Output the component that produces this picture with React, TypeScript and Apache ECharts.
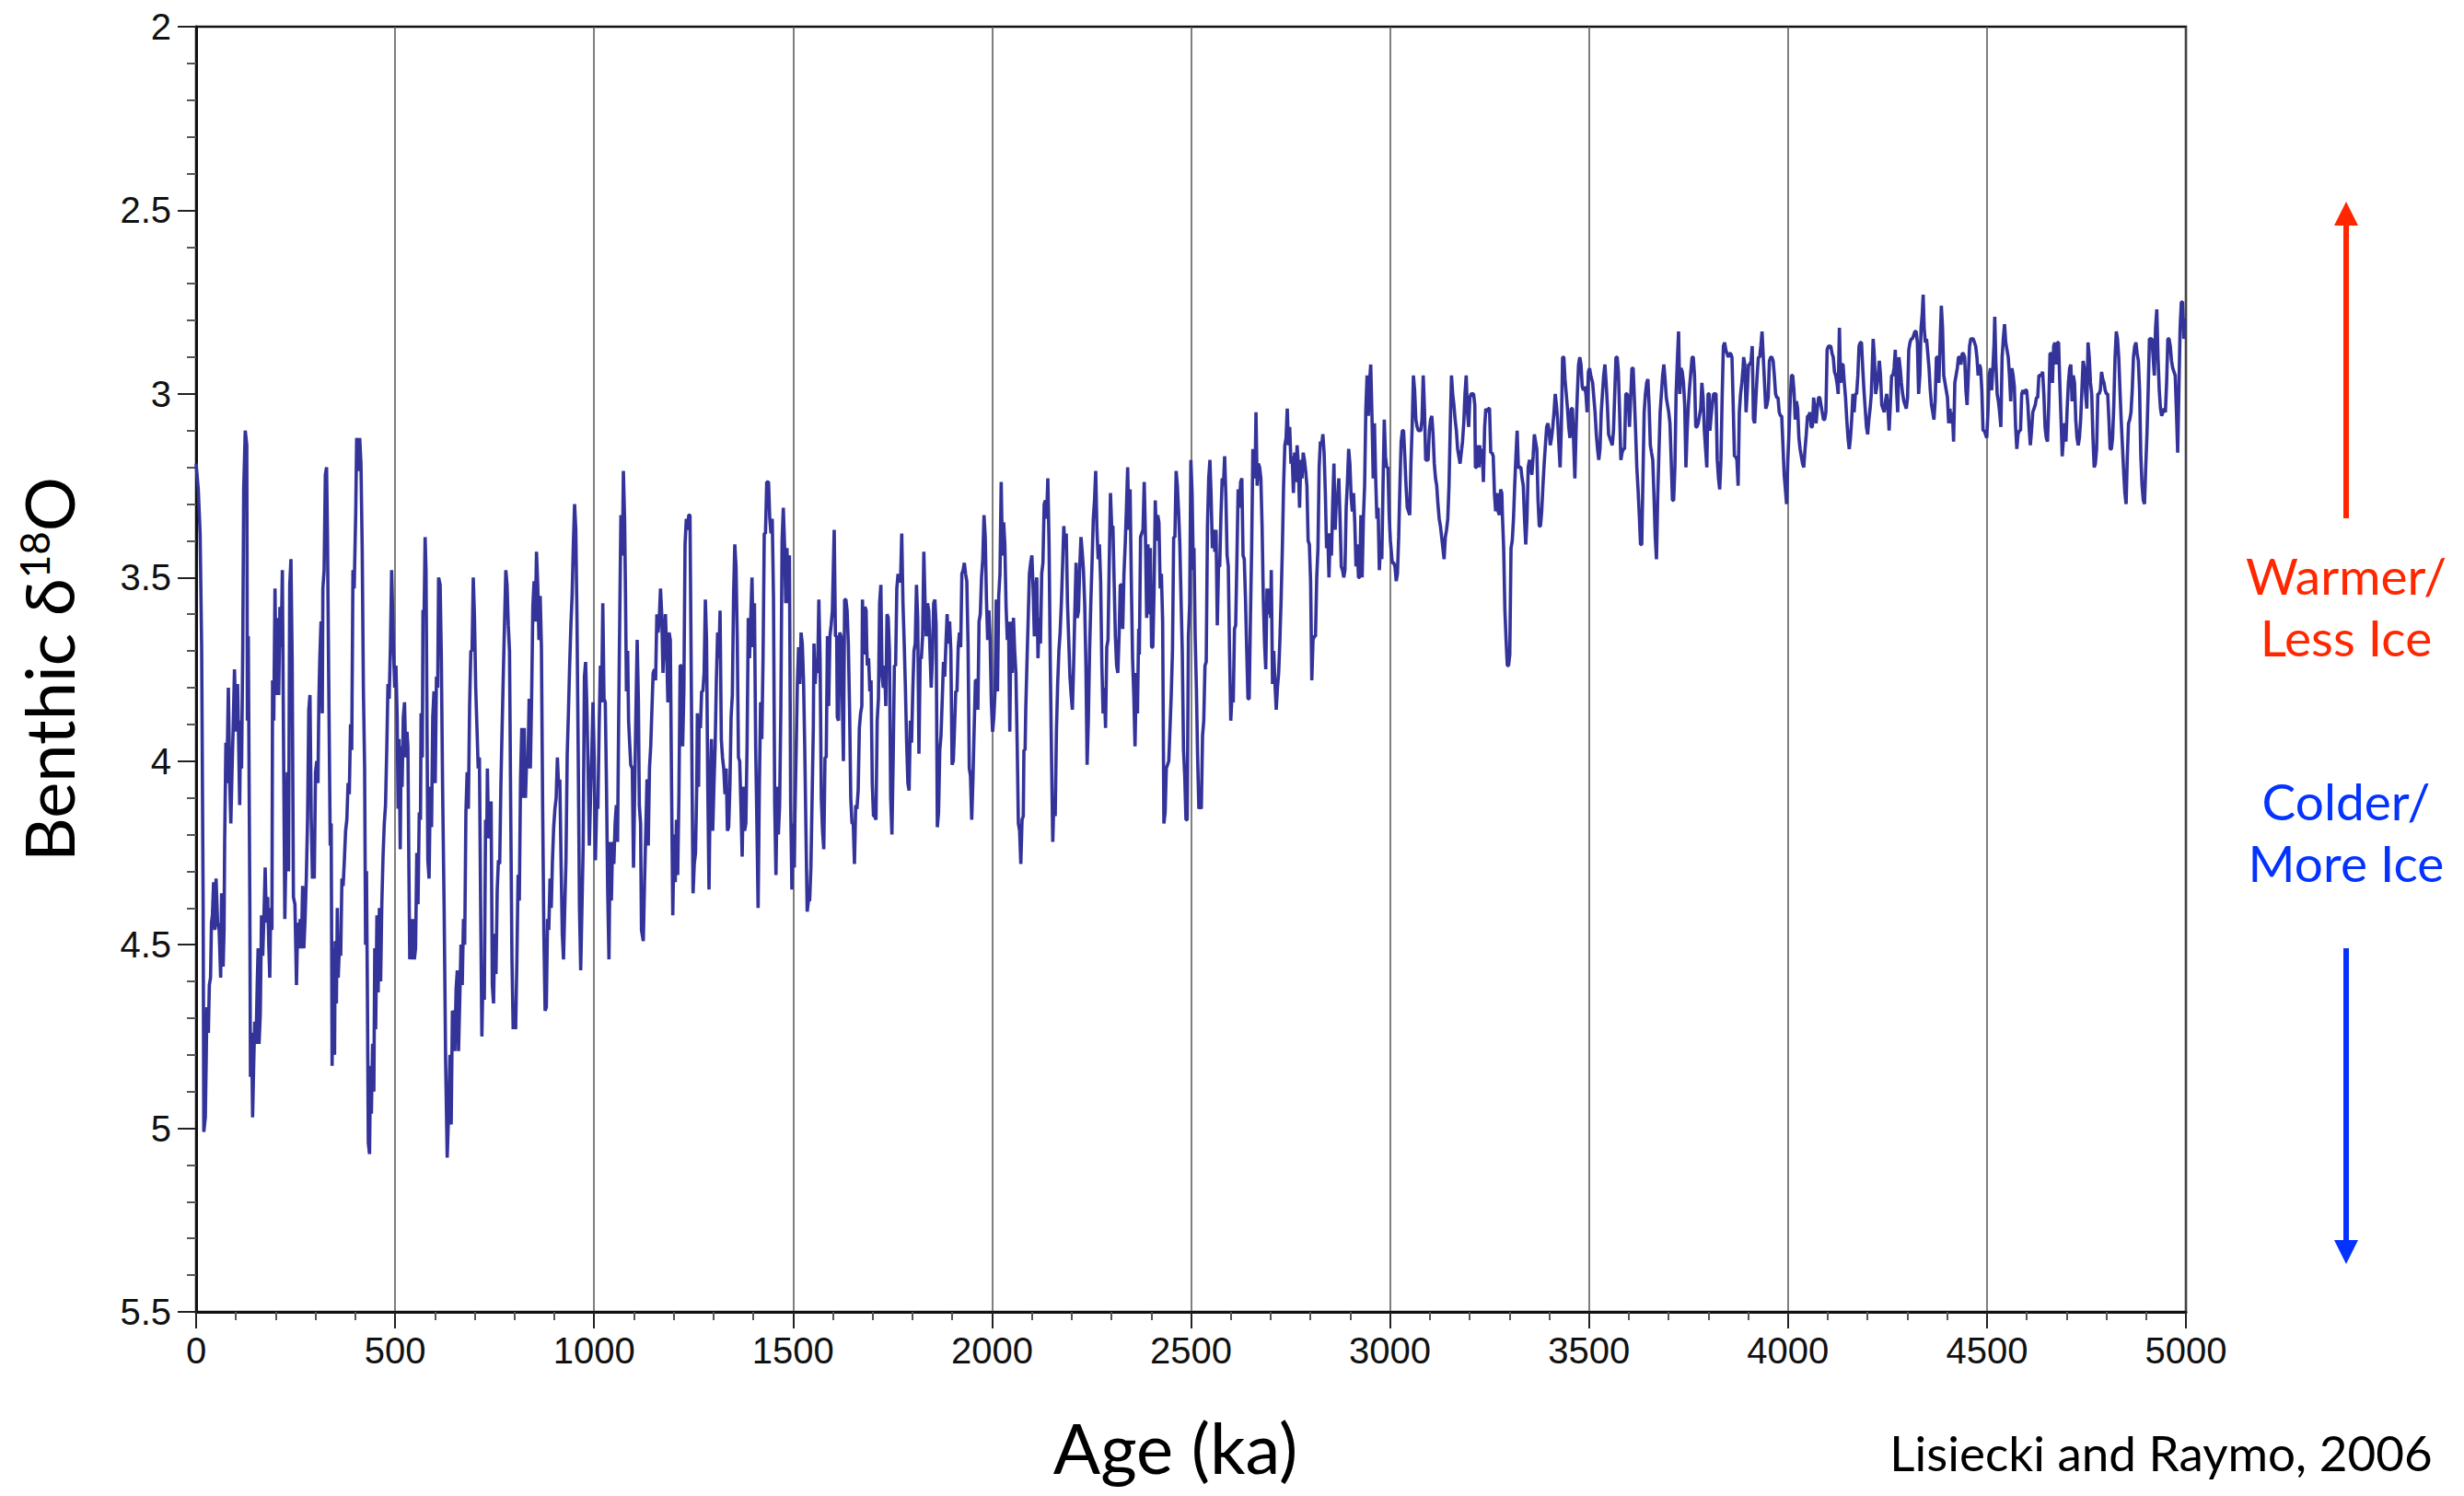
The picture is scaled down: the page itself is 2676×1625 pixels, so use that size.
import React, { useEffect, useRef } from "react";
import * as echarts from "echarts";

// Benthic d18O stack (Lisiecki & Raymo 2006): [age ka, d18O permil]
const seg0to500: number[][] = [
  [0,3.19],[5.4,3.26],[10,3.38],[13.9,3.69],[17.7,4.40],[19.3,5.01],[23.1,4.97],[25.4,4.81],[27,4.67],[30.8,4.74],[33.2,4.61],[36.2,4.59],[38.6,4.44],[40.9,4.42],[43.9,4.33],[47,4.46],[50.1,4.32],[54,4.44],[57.8,4.46],[61.7,4.59],[64,4.36],[67.9,4.56],[70.2,4.46],[71.7,4.22],[74.8,3.95],[77.1,4.06],[81,3.80],[84.8,4.07],[87.2,4.17],[90.2,4.03],[93.3,3.90],[96.4,3.75],[100.3,3.92],[104.1,3.79],[106.4,3.92],[109.5,4.12],[111.8,3.89],[114.2,4.02],[117.2,3.69],[119.5,3.26],[123.4,3.10],[127.3,3.14],[128.8,3.89],[131.1,3.66],[135,4.40],[136.5,4.86],[139.6,4.74],[141.9,4.97],[145,4.81],[147.3,4.71],[150.4,4.77],[153.5,4.61],[155.8,4.51],[158.1,4.77],[161.2,4.69],[164.3,4.42],[167.4,4.53],[170.5,4.42],[173.5,4.29],[176.6,4.44],[179.7,4.37],[182.8,4.51],[185.1,4.59],[187.4,4.40],[190.5,4.46],[192.1,3.78],[195.1,3.89],[198.2,3.53],[201.3,3.82],[204.4,3.61],[207.5,3.82],[210.6,3.58],[213.6,3.69],[216.7,3.48],[219.8,3.97],[222.9,4.43],[226,4.23],[229.1,4.03],[232.2,4.30],[235.2,3.52],[238.3,3.45],[241.4,3.73],[244.5,4.37],[248.3,4.39],[252.2,4.61],[255.3,4.44],[258.4,4.51],[261.5,4.43],[264.5,4.51],[267.6,4.34],[270.7,4.51],[273.8,4.43],[276.9,4.32],[280,4.16],[283.1,3.86],[286.1,3.82],[289.2,4.15],[292.3,4.32],[294.6,4.22],[296.9,4.32],[300,4.03],[303.1,4.00],[306.2,4.06],[308.5,3.83],[310.8,3.72],[313.9,3.62],[317,3.87],[318.5,3.53],[321.6,3.48],[324.7,3.22],[327.8,3.20],[330.1,3.39],[333.2,3.78],[337,4.23],[339.4,4.17],[341.7,4.83],[344.8,4.51],[347.9,4.80],[349.4,4.49],[352.5,4.66],[354.8,4.40],[357.1,4.59],[360.2,4.50],[363.3,4.53],[366.4,4.32],[369.4,4.34],[372.5,4.27],[375.6,4.19],[378.7,4.16],[381.8,4.06],[384.9,4.09],[388,3.90],[391,3.97],[394.1,3.48],[397.2,3.53],[401.1,3.32],[403.4,3.12],[406.5,3.16],[408.8,3.21],[411.1,3.12],[414.2,3.19],[417.3,3.42],[420.3,3.80],[423.4,4.02],[425.8,4.50],[428.1,4.30],[430.4,4.64],[432.7,5.04],[435.8,5.07],[438.1,4.83],[440.4,4.96],[443.5,4.77],[446.6,4.90],[448.9,4.51],[451.2,4.73],[454.3,4.42],[457.4,4.63],[460.5,4.40],[463.6,4.60],[466.6,4.39],[469.7,4.26],[472.8,4.17],[475.9,4.12],[479,3.97],[482.1,3.79],[485.1,3.83],[488.2,3.69],[491.3,3.48],[495.9,3.69],[499,3.80]
];
const seg500to1000: number[][] = [
  [502.1,3.74],[505.2,3.88],[507.5,4.13],[509.8,3.94],[512.9,4.24],[515.2,3.96],[517.5,4.07],[520.6,3.88],[523.7,3.84],[526.8,3.99],[529.9,3.92],[532.2,3.96],[534.5,4.27],[536.8,4.54],[539.9,4.43],[542.2,4.54],[545.3,4.43],[548.4,4.54],[551.4,4.51],[554.5,4.25],[557.6,4.39],[560.7,4.14],[563.8,4.16],[565.3,3.87],[568.4,3.99],[570,3.59],[573,3.59],[575.4,3.39],[577.7,3.48],[579.2,3.73],[582.3,4.27],[585.4,4.32],[588.5,4.07],[591.6,4.18],[594.6,3.88],[597.7,3.81],[600.8,4.06],[603.9,3.77],[607,3.80],[609.3,3.50],[613.2,3.52],[616.2,3.72],[619.3,4.07],[623.2,4.40],[627,4.82],[630.9,5.08],[634.7,4.95],[637.8,4.80],[640.9,4.99],[644,4.68],[647.1,4.69],[650.2,4.79],[653.3,4.62],[656.3,4.57],[659.4,4.79],[662.5,4.65],[665.6,4.50],[668.7,4.61],[671.8,4.43],[674.9,4.50],[677.9,4.14],[681,4.03],[684.1,4.13],[687.2,3.85],[690.3,3.70],[693.4,3.70],[696.4,3.50],[699.5,3.61],[702.6,3.80],[705.7,3.91],[708.8,4.02],[711.9,3.99],[715,4.40],[718,4.75],[721.1,4.57],[724.2,4.65],[727.3,4.16],[730.4,4.20],[731.9,4.02],[735,4.21],[738.1,4.20],[741.2,4.11],[744.3,4.61],[747.4,4.66],[750.4,4.47],[753.5,4.58],[756.6,4.35],[759.7,4.27],[762.8,4.28],[765.9,4.06],[768.9,3.91],[772,3.76],[775.1,3.62],[778.2,3.48],[781.3,3.52],[784.4,3.63],[787.5,3.70],[790.5,4.13],[793.6,4.54],[796.7,4.73],[799.8,4.68],[802.9,4.73],[806,4.54],[809.1,4.31],[812.1,4.38],[815.2,4.05],[818.3,3.91],[821.4,4.10],[824.5,3.91],[827.6,4.10],[830.7,3.99],[833.7,4.02],[836.8,3.83],[839.9,4.02],[843,3.83],[846.1,3.58],[849.2,3.51],[852.2,3.62],[855.3,3.43],[858.4,3.52],[861.5,3.67],[864.6,3.55],[867.7,3.69],[870.8,4.13],[873.8,4.47],[876.9,4.68],[880,4.67],[883.1,4.43],[886.2,4.46],[889.3,4.32],[892.4,4.40],[895.4,4.27],[898.5,4.18],[901.6,4.13],[904.7,4.10],[907.8,3.99],[910.9,4.07],[913.9,4.05],[917,4.27],[920.1,4.47],[923.2,4.54],[926.3,4.40],[929.4,4.27],[932.5,3.98],[935.5,3.87],[938.6,3.74],[941.7,3.63],[944.8,3.55],[947.9,3.41],[951,3.30],[954.1,3.37],[957.1,3.62],[960.2,3.99],[963.3,4.40],[966.4,4.57],[969.5,4.40],[972.6,4.23],[975.7,3.77],[978.7,3.73],[981.8,3.85],[984.9,4.02],[988,4.23],[991.1,4.10],[994.2,3.98],[997.2,3.84]
];
const seg1000to1500: number[][] = [
  [1000.3,3.99],[1003.4,4.27],[1006.5,4.12],[1009.6,4.13],[1012.7,3.91],[1015.8,3.74],[1018.9,3.84],[1021.9,3.57],[1025,3.83],[1028.1,3.84],[1031.2,4.07],[1034.3,4.36],[1037.4,4.54],[1040.4,4.22],[1043.5,4.38],[1046.6,4.22],[1049.7,4.28],[1052.8,4.17],[1055.9,4.12],[1059,4.22],[1062,3.86],[1065.1,3.55],[1067.4,3.33],[1071.3,3.44],[1073.6,3.21],[1076.7,3.34],[1079,3.55],[1081.3,3.81],[1084.4,3.70],[1086.7,3.89],[1089.8,3.96],[1092.1,4.01],[1096,4.02],[1099.1,4.29],[1102.2,4.07],[1105.2,3.86],[1108.3,3.67],[1111.4,3.84],[1113.7,4.12],[1116.8,4.17],[1119.1,4.46],[1123.7,4.49],[1126.8,4.33],[1129.9,4.19],[1133,4.05],[1136.1,4.23],[1139.2,4.02],[1142.3,3.96],[1145.3,3.86],[1148.4,3.76],[1151.5,3.75],[1154.6,3.78],[1157.7,3.60],[1160.8,3.65],[1163.9,3.61],[1166.9,3.53],[1170,3.60],[1173.1,3.76],[1176.2,3.67],[1179.3,3.60],[1182.4,3.70],[1185.5,3.84],[1188.5,3.65],[1191.6,3.67],[1194.7,4.07],[1197.8,4.42],[1200.9,4.20],[1204,4.33],[1207,4.16],[1210.1,4.31],[1213.2,4.09],[1216.3,3.74],[1219.4,3.74],[1222.5,3.96],[1225.6,3.81],[1228.6,3.41],[1231.7,3.34],[1234.8,3.37],[1237.9,3.33],[1241,3.33],[1244.1,3.76],[1246.4,4.07],[1248.7,4.36],[1251.8,4.28],[1254.9,4.25],[1258,4.07],[1259.5,3.87],[1262.6,4.07],[1264.1,3.88],[1267.2,3.91],[1270.3,3.81],[1273.4,3.81],[1276.5,3.76],[1279.6,3.56],[1282.6,3.67],[1285.7,4.07],[1288.8,4.35],[1291.9,4.07],[1295,3.94],[1298.1,4.19],[1301.1,4.07],[1304.2,3.96],[1307.3,3.78],[1310.4,3.65],[1313.5,3.72],[1316.6,3.59],[1319.7,3.94],[1322.7,3.99],[1325.8,4.02],[1328.9,4.09],[1332,4.02],[1335.1,4.19],[1338.2,4.18],[1341.3,4.07],[1344.3,3.88],[1347.4,3.82],[1350.5,3.55],[1353.6,3.41],[1356.7,3.47],[1359.8,3.67],[1362.8,3.99],[1365.9,4.00],[1369,4.12],[1372.1,4.26],[1375.2,4.07],[1378.3,4.19],[1381.4,4.17],[1384.4,3.96],[1387.5,3.61],[1390.6,3.72],[1393.7,3.61],[1396.8,3.50],[1399.9,3.69],[1403,3.57],[1406,3.96],[1409.1,4.17],[1412.2,4.40],[1415.3,4.07],[1418.4,3.84],[1421.5,3.94],[1424.6,3.72],[1427.6,3.38],[1430.7,3.38],[1433.8,3.24],[1438.4,3.24],[1441.5,3.34],[1444.6,3.38],[1447.7,3.34],[1450.8,3.55],[1453.9,4.12],[1457,4.31],[1460,4.07],[1463.1,4.20],[1466.2,4.12],[1469.3,3.86],[1472.4,3.40],[1475.5,3.31],[1478.6,3.41],[1481.6,3.57],[1484.7,3.42],[1487.8,3.57],[1490.9,3.44],[1494,4.12],[1497.1,4.35]
];
const seg1500to2000: number[][] = [
  [1500.1,4.17],[1503.2,4.29],[1504.7,4.15],[1507.8,3.97],[1510.8,3.79],[1513.9,3.69],[1517,3.79],[1520.1,3.65],[1523.2,3.68],[1526.3,3.78],[1529.3,3.96],[1532.4,4.19],[1535.5,4.41],[1538.6,4.38],[1541.7,4.38],[1544.8,4.29],[1547.9,4.10],[1550.9,3.91],[1552.5,3.68],[1555.6,3.79],[1558.7,3.72],[1561.7,3.76],[1564.8,3.56],[1567.9,3.72],[1571,4.10],[1574.1,4.19],[1577.2,4.24],[1580.3,3.99],[1583.3,3.99],[1586.4,3.66],[1589.5,3.85],[1592.6,3.66],[1595.7,3.63],[1598.8,3.59],[1601.9,3.44],[1603.4,3.37],[1606.5,3.66],[1609.6,3.66],[1611.1,3.88],[1614.2,3.89],[1617.3,3.65],[1620.4,3.66],[1623.4,3.81],[1626.5,4.00],[1629.6,3.56],[1632.7,3.56],[1635.8,3.59],[1638.9,3.68],[1642,3.86],[1645,4.10],[1648.1,4.17],[1651.2,4.17],[1654.3,4.28],[1657.4,4.12],[1660.5,4.13],[1663.6,4.08],[1666.6,3.91],[1669.7,3.87],[1672.8,3.85],[1674.4,3.56],[1677.4,3.71],[1680.5,3.58],[1683.6,3.59],[1685.2,3.69],[1686.7,3.74],[1689.8,3.72],[1692.9,3.81],[1696,3.78],[1699,4.06],[1702.1,4.15],[1705.2,4.15],[1708.3,4.16],[1711.4,3.89],[1714.5,3.83],[1717.5,3.57],[1720.6,3.52],[1723.7,3.77],[1726.8,3.80],[1729.9,3.74],[1733,3.85],[1736.1,3.60],[1739.1,3.61],[1742.2,3.70],[1745.3,4.10],[1748.4,4.20],[1751.5,4.00],[1754.6,3.74],[1757.7,3.74],[1760.7,3.53],[1763.8,3.49],[1766.9,3.51],[1770,3.51],[1773.1,3.38],[1776.2,3.57],[1779.3,3.68],[1782.3,3.80],[1785.4,3.95],[1788.5,4.06],[1791.6,4.08],[1794.7,3.89],[1797.8,3.95],[1800.8,3.81],[1803.9,3.70],[1807,3.68],[1810.1,3.52],[1813.2,3.61],[1816.3,3.98],[1819.4,3.72],[1822.4,3.72],[1825.5,3.66],[1828.6,3.43],[1831.7,3.57],[1834.8,3.66],[1837.9,3.57],[1841,3.59],[1844,3.70],[1847.1,3.80],[1850.2,3.72],[1853.3,3.57],[1856.4,3.56],[1859.5,3.63],[1862.5,4.18],[1865.6,4.14],[1868.7,3.97],[1871.8,3.93],[1874.9,3.83],[1878,3.73],[1881.1,3.77],[1884.1,3.68],[1887.2,3.60],[1890.3,3.68],[1893.4,3.62],[1896.5,3.70],[1899.6,4.01],[1902.7,4.00],[1905.7,3.91],[1908.8,3.81],[1911.9,3.81],[1915,3.69],[1918.1,3.65],[1921.2,3.69],[1924.2,3.49],[1927.3,3.48],[1930.4,3.46],[1933.5,3.49],[1936.6,3.51],[1939.7,3.68],[1942.8,4.02],[1945.8,4.04],[1948.9,4.16],[1952,4.05],[1955.1,3.91],[1958.2,3.78],[1961.3,3.78],[1964.4,3.86],[1967.4,3.62],[1970.5,3.60],[1973.6,3.50],[1976.7,3.45],[1979.8,3.33],[1982.9,3.39],[1986,3.56],[1989,3.67],[1992.1,3.59],[1995.2,3.67],[1998.3,3.84]
];
const seg2000to2500: number[][] = [
  [2001.4,3.92],[2004.5,3.88],[2007.6,3.81],[2010.6,3.56],[2013.7,3.81],[2016.8,3.55],[2019.9,3.49],[2023,3.24],[2026.1,3.44],[2029.2,3.35],[2032.2,3.41],[2035.3,3.58],[2038.4,3.67],[2041.5,3.62],[2044.6,3.92],[2047.7,3.62],[2050.7,3.76],[2053.8,3.61],[2056.9,3.70],[2060,3.76],[2063.1,3.95],[2066.2,4.17],[2069.3,4.19],[2072.3,4.28],[2075.4,4.16],[2078.5,4.15],[2080.1,3.97],[2083.1,3.97],[2084.7,3.86],[2087.8,3.73],[2090.9,3.61],[2093.9,3.49],[2097,3.46],[2100.1,3.44],[2103.2,3.53],[2106.3,3.66],[2109.4,3.53],[2112.4,3.50],[2115.5,3.72],[2118.6,3.61],[2121.7,3.68],[2124.8,3.49],[2127.9,3.46],[2131,3.30],[2134,3.29],[2137.1,3.34],[2140.2,3.23],[2143.3,3.41],[2146.4,3.74],[2149.5,3.99],[2152.6,4.22],[2155.6,4.10],[2158.7,4.15],[2161.8,3.92],[2164.9,3.79],[2168,3.70],[2171.1,3.65],[2174.2,3.57],[2177.2,3.47],[2180.3,3.36],[2183.4,3.42],[2186.5,3.38],[2189.6,3.57],[2192.7,3.67],[2195.7,3.77],[2198.8,3.82],[2201.9,3.86],[2205,3.74],[2208.1,3.59],[2211.2,3.46],[2214.3,3.61],[2217.3,3.59],[2220.4,3.47],[2223.5,3.39],[2226.6,3.43],[2229.7,3.48],[2232.8,3.57],[2235.9,3.74],[2238.9,4.01],[2242,3.89],[2245.1,3.70],[2248.2,3.57],[2251.3,3.46],[2254.4,3.34],[2257.5,3.29],[2260.5,3.21],[2263.6,3.37],[2266.7,3.45],[2269.8,3.41],[2272.9,3.51],[2276,3.74],[2279,3.87],[2282.1,3.80],[2285.2,3.91],[2288.3,3.69],[2291.4,3.67],[2294.5,3.46],[2297.6,3.27],[2300.6,3.36],[2303.7,3.36],[2306.8,3.51],[2309.9,3.66],[2313,3.74],[2316.1,3.76],[2319.2,3.66],[2322.2,3.52],[2325.3,3.52],[2328.4,3.64],[2331.5,3.49],[2334.6,3.41],[2337.7,3.31],[2340.8,3.20],[2343.8,3.37],[2346.9,3.26],[2350,3.51],[2353.1,3.72],[2356.2,3.82],[2359.3,3.96],[2362.4,3.76],[2365.4,3.87],[2368.5,3.64],[2370.1,3.71],[2373.2,3.39],[2376.2,3.38],[2379.3,3.37],[2382.4,3.24],[2385.5,3.39],[2388.6,3.61],[2391.7,3.41],[2394.7,3.60],[2397.8,3.42],[2400.9,3.69],[2404,3.69],[2407.1,3.54],[2410.2,3.29],[2413.3,3.40],[2416.3,3.33],[2419.4,3.35],[2422.5,3.53],[2425.6,3.49],[2428.7,3.62],[2431.8,4.17],[2434.9,4.14],[2437.9,4.02],[2441,4.01],[2444.1,4.00],[2447.2,3.91],[2450.3,3.82],[2453.4,3.70],[2456.4,3.39],[2459.5,3.39],[2462.6,3.21],[2465.7,3.25],[2468.8,3.32],[2471.9,3.41],[2475,3.56],[2478,3.70],[2481.1,3.97],[2484.2,4.04],[2487.3,4.16],[2490.4,4.16],[2493.5,3.66],[2496.6,3.57],[2499.6,3.18]
];
const seg2500to3000: number[][] = [
  [2502.7,3.27],[2505.8,3.48],[2507.4,3.42],[2510.4,3.66],[2513.5,3.80],[2516.6,3.99],[2519.7,4.13],[2522.8,4.12],[2525.9,4.13],[2529,3.93],[2532,3.89],[2535.1,3.74],[2538.2,3.73],[2541.3,3.36],[2544.4,3.23],[2547.5,3.18],[2550.5,3.28],[2553.6,3.42],[2556.7,3.37],[2559.8,3.43],[2562.9,3.37],[2566,3.63],[2569.1,3.47],[2572.1,3.47],[2575.2,3.33],[2578.3,3.23],[2581.4,3.25],[2584.5,3.17],[2587.6,3.28],[2590.7,3.44],[2593.7,3.47],[2596.8,3.70],[2599.9,3.89],[2603,3.82],[2606.1,3.84],[2609.2,3.64],[2612.2,3.63],[2615.3,3.45],[2618.4,3.26],[2621.5,3.31],[2624.6,3.24],[2627.7,3.23],[2630.8,3.44],[2633.8,3.45],[2636.9,3.56],[2640,3.70],[2643.1,3.83],[2646.2,3.83],[2649.3,3.61],[2652.4,3.42],[2655.4,3.15],[2658.5,3.23],[2661.6,3.18],[2663.2,3.05],[2666.2,3.25],[2669.3,3.19],[2672.4,3.20],[2675.5,3.23],[2678.6,3.36],[2681.7,3.56],[2684.8,3.68],[2687.8,3.75],[2690.9,3.53],[2694,3.60],[2697.1,3.53],[2700.2,3.61],[2701.7,3.48],[2704.8,3.79],[2707.9,3.70],[2711,3.79],[2714.1,3.86],[2717.2,3.80],[2720.2,3.76],[2723.3,3.67],[2726.4,3.56],[2729.5,3.42],[2732.6,3.25],[2735.7,3.14],[2738.8,3.12],[2741.8,3.04],[2744.9,3.14],[2748,3.09],[2751.1,3.19],[2754.2,3.17],[2757.3,3.27],[2760.3,3.16],[2763.4,3.24],[2766.5,3.14],[2769.6,3.19],[2772.7,3.31],[2775.8,3.18],[2778.9,3.23],[2781.9,3.16],[2785,3.18],[2788.1,3.21],[2791.2,3.25],[2794.3,3.40],[2797.4,3.41],[2800.5,3.51],[2803.5,3.78],[2806.6,3.67],[2809.7,3.66],[2812.8,3.66],[2815.9,3.50],[2819,3.42],[2822,3.20],[2825.1,3.13],[2828.2,3.14],[2831.3,3.11],[2834.4,3.16],[2837.5,3.27],[2840.6,3.42],[2843.6,3.38],[2846.7,3.50],[2849.8,3.38],[2852.9,3.44],[2856,3.30],[2859.1,3.19],[2862.2,3.37],[2865.2,3.29],[2868.3,3.28],[2871.4,3.23],[2874.5,3.34],[2877.6,3.47],[2880.7,3.48],[2883.8,3.50],[2886.8,3.48],[2889.9,3.31],[2893,3.24],[2896.1,3.15],[2899.2,3.19],[2902.3,3.28],[2905.3,3.32],[2908.4,3.27],[2911.5,3.35],[2914.6,3.47],[2917.7,3.41],[2920.8,3.50],[2923.9,3.50],[2926.9,3.33],[2930,3.50],[2933.1,3.34],[2936.2,3.25],[2939.3,3.04],[2942.4,2.95],[2945.5,3.06],[2948.5,2.97],[2951.6,2.92],[2954.7,3.06],[2957.8,3.23],[2960.9,3.08],[2964,3.23],[2967.1,3.34],[2970.1,3.31],[2973.2,3.48],[2976.3,3.41],[2979.4,3.45],[2982.5,3.25],[2985.6,3.07],[2988.6,3.17],[2991.7,3.20],[2994.8,3.20],[2997.9,3.33]
];
const seg3000to3500: number[][] = [
  [3001,3.40],[3005.6,3.46],[3009.5,3.46],[3012.5,3.47],[3015.6,3.51],[3018.7,3.49],[3021.8,3.39],[3024.9,3.25],[3028,3.13],[3031.1,3.10],[3034.1,3.10],[3037.2,3.17],[3040.3,3.25],[3043.4,3.31],[3046.5,3.32],[3049.6,3.33],[3052.6,3.19],[3055.7,3.09],[3058.8,2.95],[3061.9,2.99],[3065,3.07],[3068.1,3.09],[3071.2,3.10],[3074.2,3.10],[3077.3,3.10],[3080.4,3.07],[3083.5,2.95],[3086.6,3.04],[3089.7,3.18],[3092.8,3.18],[3095.8,3.18],[3098.9,3.10],[3102,3.07],[3105.1,3.06],[3108.2,3.11],[3111.3,3.19],[3114.4,3.23],[3117.4,3.25],[3120.5,3.30],[3123.6,3.34],[3126.7,3.36],[3129.8,3.39],[3132.9,3.42],[3135.9,3.45],[3139,3.39],[3142.1,3.37],[3145.2,3.34],[3148.3,3.25],[3151.4,3.09],[3154.5,2.95],[3157.5,3.00],[3160.6,3.03],[3163.7,3.07],[3166.8,3.10],[3169.9,3.15],[3173,3.17],[3176.1,3.19],[3179.1,3.16],[3182.2,3.13],[3185.3,3.08],[3188.4,3.00],[3191.5,2.95],[3194.6,3.05],[3197.7,3.09],[3200.7,3.01],[3203.8,3.00],[3206.9,3.00],[3210,3.00],[3213.1,3.03],[3214.6,3.20],[3217.7,3.20],[3220.8,3.14],[3223.9,3.20],[3225.4,3.14],[3228.5,3.19],[3231.6,3.15],[3234.7,3.24],[3237.8,3.09],[3240.8,3.04],[3243.9,3.05],[3247,3.04],[3250.1,3.04],[3253.2,3.16],[3256.3,3.16],[3259.4,3.17],[3262.4,3.27],[3265.5,3.32],[3268.6,3.27],[3271.7,3.32],[3274.8,3.33],[3277.9,3.26],[3281,3.27],[3282.5,3.33],[3285.6,3.42],[3288.7,3.59],[3291.7,3.67],[3294.8,3.74],[3297.9,3.74],[3301,3.71],[3304.1,3.42],[3307.2,3.40],[3310.3,3.34],[3313.3,3.25],[3316.4,3.17],[3319.5,3.10],[3322.6,3.20],[3325.7,3.20],[3328.8,3.20],[3331.9,3.23],[3334.9,3.25],[3338,3.34],[3341.1,3.41],[3344.2,3.34],[3347.3,3.20],[3350.4,3.18],[3353.5,3.20],[3356.5,3.22],[3359.6,3.17],[3362.7,3.11],[3365.8,3.13],[3368.9,3.15],[3372,3.29],[3375.1,3.36],[3378.1,3.36],[3381.2,3.32],[3384.3,3.25],[3387.4,3.19],[3390.5,3.14],[3393.6,3.09],[3396.7,3.08],[3399.7,3.10],[3402.8,3.14],[3405.9,3.12],[3409,3.09],[3412.1,3.05],[3415.2,3.00],[3418.2,3.03],[3421.3,3.07],[3424.4,3.14],[3427.5,3.20],[3430.6,3.09],[3433.7,2.90],[3436.8,2.90],[3439.8,2.96],[3442.9,3.00],[3446,3.04],[3449.1,3.09],[3452.2,3.12],[3455.3,3.04],[3458.4,3.04],[3461.4,3.13],[3464.5,3.23],[3467.6,3.10],[3470.7,3.00],[3473.8,2.92],[3476.9,2.90],[3480,2.92],[3483,2.98],[3486.1,2.99],[3489.2,2.98],[3492.3,3.00],[3495.4,3.05],[3498.5,2.94]
];
const seg3500to4000: number[][] = [
  [3501.5,2.93],[3504.6,2.95],[3509.2,2.97],[3512.2,3.01],[3515.3,3.05],[3518.4,3.11],[3521.5,3.15],[3524.6,3.18],[3527.7,3.15],[3530.8,3.05],[3533.8,3.00],[3536.9,2.95],[3540,2.92],[3543.1,2.97],[3546.2,3.03],[3549.3,3.11],[3552.3,3.12],[3555.4,3.13],[3558.5,3.14],[3561.6,3.10],[3564.7,3.00],[3567.8,2.90],[3570.9,2.90],[3573.9,2.94],[3577,3.05],[3580.1,3.18],[3583.2,3.16],[3586.3,3.15],[3589.4,3.15],[3592.5,3.00],[3595.5,3.00],[3598.6,3.01],[3601.7,3.09],[3604.8,3.01],[3607.9,2.93],[3611,2.93],[3614,3.01],[3617.1,3.10],[3620.2,3.20],[3623.3,3.26],[3626.4,3.33],[3629.5,3.41],[3632.6,3.41],[3635.6,3.23],[3638.7,3.05],[3641.8,3.00],[3644.9,2.97],[3648,2.96],[3651.1,3.03],[3654.2,3.14],[3657.2,3.16],[3660.3,3.18],[3663.4,3.28],[3666.5,3.39],[3669.6,3.45],[3672.7,3.28],[3675.8,3.16],[3678.8,3.05],[3681.9,3.00],[3685,2.95],[3688.1,2.92],[3691.2,2.96],[3694.3,3.01],[3697.3,3.03],[3700.4,3.05],[3703.5,3.08],[3706.6,3.18],[3709.7,3.29],[3712.8,3.29],[3715.9,3.20],[3718.9,3.00],[3722,2.91],[3725.1,2.83],[3728.2,3.00],[3731.3,2.93],[3734.4,2.94],[3737.5,2.97],[3740.5,3.03],[3743.6,3.20],[3746.7,3.10],[3749.8,3.03],[3752.9,2.98],[3756,2.94],[3759.1,2.90],[3762.1,2.90],[3765.2,2.95],[3768.3,3.09],[3771.4,3.09],[3774.5,3.08],[3777.6,3.06],[3780.7,3.04],[3783.7,2.97],[3786.8,3.01],[3789.9,3.10],[3793,3.15],[3796.1,3.20],[3799.2,3.00],[3802.2,3.00],[3803.8,3.10],[3806.9,3.06],[3810,3.03],[3813,3.00],[3816.1,3.00],[3819.2,3.00],[3822.3,3.18],[3825.4,3.23],[3828.5,3.26],[3831.6,3.18],[3834.6,3.01],[3837.7,2.87],[3840.8,2.86],[3843.9,2.88],[3847,2.89],[3850.1,2.90],[3853.2,2.89],[3856.2,2.89],[3859.3,2.90],[3862.4,3.03],[3865.5,3.17],[3868.6,3.17],[3871.7,3.18],[3874.8,3.25],[3877.8,3.05],[3880.9,3.00],[3884,2.97],[3887.1,2.93],[3888.6,2.90],[3891.7,2.92],[3894.8,3.05],[3897.9,2.99],[3901,2.92],[3904.1,2.92],[3907.2,2.91],[3910.2,2.87],[3913.3,3.07],[3916.4,3.08],[3919.5,3.01],[3922.6,2.95],[3925.7,2.90],[3928.8,2.90],[3931.8,2.87],[3934.9,2.83],[3938,2.90],[3941.1,2.97],[3944.2,3.04],[3947.3,3.03],[3950.4,3.01],[3953.4,2.91],[3956.5,2.90],[3959.6,2.90],[3962.7,2.91],[3965.8,2.95],[3968.9,3.00],[3971.9,3.01],[3975,3.01],[3978.1,3.05],[3981.2,3.06],[3984.3,3.06],[3987.4,3.14],[3990.5,3.22],[3993.5,3.26],[3996.6,3.30],[3999.7,3.18]
];
const seg4000to4500: number[][] = [
  [4002.8,3.10],[4005.9,3.01],[4008.9,2.95],[4012,2.95],[4015.1,2.99],[4018.2,3.07],[4021.3,3.02],[4024.4,3.04],[4027.5,3.12],[4030.5,3.15],[4033.6,3.17],[4036.7,3.19],[4039.8,3.20],[4042.9,3.15],[4046,3.11],[4049.1,3.06],[4052.1,3.06],[4055.2,3.05],[4058.3,3.09],[4061.4,3.09],[4064.5,3.01],[4067.6,3.04],[4070.7,3.08],[4073.7,3.04],[4076.8,3.01],[4079.9,3.01],[4083,3.03],[4086.1,3.05],[4089.2,3.07],[4092.3,3.07],[4095.3,3.05],[4098.4,2.88],[4101.5,2.87],[4104.6,2.87],[4107.7,2.87],[4110.8,2.89],[4113.8,2.90],[4116.9,2.94],[4120,2.95],[4123.1,2.97],[4126.2,3.00],[4129.3,2.82],[4132.4,2.97],[4135.4,2.92],[4138.5,2.92],[4141.6,2.97],[4144.7,3.01],[4147.8,3.07],[4150.9,3.12],[4154,3.15],[4157,3.12],[4160.1,3.07],[4163.2,3.00],[4166.3,3.05],[4169.4,3.00],[4172.5,3.00],[4175.6,2.95],[4178.6,2.87],[4181.7,2.86],[4184.8,2.86],[4187.9,2.93],[4191,2.99],[4194.1,3.04],[4197.2,3.09],[4200.2,3.11],[4203.3,3.07],[4206.4,3.04],[4209.5,3.00],[4212.6,2.90],[4214.1,2.85],[4217.2,2.90],[4220.3,3.00],[4223.4,2.98],[4226.5,2.95],[4229.6,2.91],[4232.6,2.95],[4235.7,3.03],[4238.8,3.04],[4241.9,3.05],[4245,3.02],[4248.1,3.00],[4251.2,3.04],[4254.2,3.10],[4257.3,3.03],[4260.4,2.95],[4263.5,2.95],[4266.6,2.93],[4269.7,2.88],[4272.8,2.99],[4275.8,3.05],[4278.9,2.90],[4282,2.93],[4285.1,2.97],[4288.2,3.00],[4291.3,3.02],[4294.3,3.03],[4297.4,3.04],[4300.5,3.01],[4303.6,2.88],[4306.7,2.86],[4309.8,2.85],[4312.9,2.85],[4315.9,2.84],[4319,2.83],[4322.1,2.83],[4325.2,2.86],[4328.3,3.00],[4331.4,2.95],[4334.5,2.82],[4337.5,2.78],[4339.8,2.73],[4342.2,2.82],[4345.2,2.86],[4348.3,2.85],[4351.4,2.89],[4354.5,2.93],[4357.6,2.99],[4360.7,3.03],[4363.8,3.05],[4366.8,3.07],[4369.9,3.02],[4373,2.90],[4376.1,2.90],[4379.2,2.97],[4382.3,2.86],[4385.4,2.76],[4388.4,2.82],[4391.5,2.95],[4394.6,2.97],[4397.7,2.99],[4400.8,3.01],[4403.9,3.08],[4407,3.04],[4410,3.08],[4413.1,3.05],[4416.2,3.13],[4419.3,2.97],[4422.4,2.95],[4425.5,2.93],[4428.5,2.90],[4431.6,2.90],[4434.7,2.92],[4437.8,2.89],[4440.9,2.89],[4444,2.90],[4447.1,2.99],[4450.1,3.03],[4453.2,2.95],[4456.3,2.87],[4459.4,2.85],[4462.5,2.85],[4465.6,2.85],[4468.7,2.86],[4471.7,2.87],[4474.8,2.90],[4477.9,2.95],[4481,2.92],[4484.1,2.93],[4487.2,2.99],[4490.2,3.10],[4493.3,3.10],[4496.4,3.11],[4499.5,3.12]
];
const seg4500to5000: number[][] = [
  [4502.6,3.05],[4505.7,2.95],[4508.8,2.93],[4511.8,2.99],[4514.9,2.93],[4518,2.86],[4519.6,2.79],[4522.6,2.92],[4525.7,3.00],[4528.8,3.02],[4531.9,3.05],[4535,3.09],[4538.1,2.90],[4541.1,2.85],[4544.2,2.81],[4547.3,2.86],[4550.4,2.88],[4553.5,2.90],[4556.6,2.95],[4559.7,3.02],[4562.7,2.93],[4565.8,2.95],[4568.9,2.98],[4572,3.09],[4575.1,3.15],[4578.2,3.11],[4581.3,3.10],[4584.3,3.10],[4587.4,3.00],[4590.5,2.99],[4593.6,3.00],[4596.7,2.99],[4599.8,2.99],[4602.9,3.03],[4605.9,3.09],[4609,3.14],[4612.1,3.10],[4615.2,3.05],[4618.3,3.04],[4621.4,3.03],[4624.5,3.01],[4627.5,3.01],[4630.6,2.95],[4633.7,2.95],[4636.8,2.95],[4639.9,2.94],[4643,3.00],[4646,3.09],[4649.1,3.12],[4652.2,3.13],[4655.3,3.03],[4658.4,2.89],[4661.5,2.89],[4664.6,2.97],[4667.6,2.87],[4670.7,2.86],[4673.8,2.92],[4676.9,2.86],[4680,2.86],[4683.1,2.97],[4686.2,3.07],[4689.2,3.17],[4692.3,3.12],[4695.4,3.08],[4698.5,3.13],[4701.6,3.04],[4704.7,2.97],[4707.8,2.93],[4710.8,2.92],[4713.9,3.02],[4717,2.95],[4720.1,2.97],[4723.2,3.07],[4726.3,3.12],[4729.4,3.14],[4732.4,3.12],[4735.5,3.07],[4738.6,2.99],[4741.7,2.91],[4744.8,2.93],[4747.9,3.00],[4751,3.04],[4754,2.86],[4757.1,2.90],[4760.2,2.97],[4763.3,3.00],[4766.4,3.12],[4769.5,3.20],[4772.5,3.19],[4775.6,3.15],[4778.7,3.00],[4781.8,3.00],[4784.9,2.99],[4788,2.94],[4791.1,2.96],[4794.1,2.97],[4797.2,2.99],[4800.3,3.00],[4803.4,3.00],[4806.5,3.07],[4809.6,3.15],[4812.7,3.15],[4815.7,3.12],[4818.8,3.03],[4821.9,2.90],[4825,2.83],[4828.1,2.85],[4831.2,2.90],[4834.3,2.99],[4837.3,3.07],[4840.4,3.14],[4843.5,3.21],[4846.6,3.27],[4849.7,3.30],[4852.8,3.17],[4855.8,3.08],[4858.9,3.07],[4862,3.05],[4865.1,2.99],[4868.2,2.90],[4871.3,2.87],[4874.4,2.86],[4877.4,2.89],[4880.5,2.91],[4883.6,2.99],[4886.7,3.17],[4889.8,3.25],[4892.9,3.29],[4896,3.30],[4899,3.20],[4902.1,3.11],[4905.2,2.99],[4908.3,2.85],[4911.4,2.85],[4914.5,2.85],[4917.6,2.90],[4920.6,2.95],[4923.7,2.82],[4926.8,2.77],[4929.9,2.90],[4933,2.99],[4936.1,3.04],[4939.1,3.06],[4942.2,3.05],[4945.3,3.04],[4948.4,3.05],[4951.5,2.97],[4954.6,2.85],[4957.7,2.85],[4960.7,2.87],[4963.8,2.91],[4966.9,2.93],[4970,2.94],[4973.1,2.95],[4976.2,3.05],[4979.3,3.16],[4982.3,2.99],[4985.4,2.82],[4988.5,2.75],[4991.6,2.75],[4994.7,2.85],[4997.8,2.80],[5000,2.80]
];

const AGE_MIN = 0;
const AGE_MAX = 5000;
const AGE_STEP = 500;
const D18O_MIN = 2;
const D18O_MAX = 5.5;
const D18O_STEP = 0.5;

const X_TITLE = "Age (ka)";
const Y_TITLE = "Benthic δ{sup|18}O";
const CREDIT = "Lisiecki and Raymo, 2006";
const WARM_LINES = ["Warmer/", "Less Ice"];
const COLD_LINES = ["Colder/", "More Ice"];

const RED = "#FF2600";
const BLUE = "#0433FF";
const LINE_COLOR = "#333399";

export default function App() {
  const ref = useRef<HTMLDivElement | null>(null);

  useEffect(() => {
    if (!ref.current) return;
    const chart = echarts.init(ref.current, undefined, { renderer: "svg" });
    const data = ([] as number[][]).concat(
      seg0to500, seg500to1000, seg1000to1500, seg1500to2000, seg2000to2500,
      seg2500to3000, seg3000to3500, seg3500to4000, seg4000to4500, seg4500to5000
    );

    const txt = (s: string, x: number, y: number, color: string, size: number) => ({
      type: "text",
      x, y,
      style: {
        text: s,
        fill: color,
        fontFamily: "Lato",
        fontSize: size,
        align: "center",
        verticalAlign: "middle",
      },
    });

    chart.setOption({
      animation: false,
      backgroundColor: "#ffffff",
      grid: {
        left: 213, right: 302, top: 29, bottom: 200,
        show: true, borderColor: "#111", borderWidth: 2.5, backgroundColor: "transparent",
      },
      xAxis: {
        type: "value",
        min: AGE_MIN, max: AGE_MAX, interval: AGE_STEP,
        name: X_TITLE,
        nameLocation: "middle",
        nameGap: 108,
        nameTextStyle: { fontFamily: "Lato", fontSize: 76, color: "#000", padding: [0, 34, 0, 0] },
        axisLine: { show: true, onZero: false, lineStyle: { color: "#111", width: 3 } },
        axisTick: { show: true, length: 18, lineStyle: { color: "#222", width: 2 } },
        minorTick: { show: true, splitNumber: 5, length: 9, lineStyle: { color: "#555", width: 2 } },
        axisLabel: {
          fontFamily: "Liberation Sans", fontSize: 40, color: "#111", margin: 22,
          formatter: (v: number) => String(v),
        },
        splitLine: { show: true, lineStyle: { color: "#555", width: 1.5 } },
      },
      yAxis: {
        type: "value",
        inverse: true,
        min: D18O_MIN, max: D18O_MAX, interval: D18O_STEP,
        name: Y_TITLE,
        nameLocation: "middle",
        nameGap: 124,
        nameTextStyle: {
          fontFamily: "Lato", fontSize: 74, color: "#000",
          rich: { sup: { fontFamily: "Lato", fontSize: 44, color: "#000", verticalAlign: "top" } },
        },
        axisLine: { show: true, onZero: false, lineStyle: { color: "#111", width: 3 } },
        axisTick: { show: true, length: 20, lineStyle: { color: "#222", width: 2 } },
        minorTick: { show: true, splitNumber: 5, length: 10, lineStyle: { color: "#555", width: 2 } },
        axisLabel: {
          fontFamily: "Liberation Sans", fontSize: 40, color: "#111", margin: 27,
          formatter: (v: number) => String(v),
        },
        splitLine: { show: false },
      },
      series: [
        {
          type: "line",
          data,
          showSymbol: false,
          symbol: "none",
          silent: true,
          lineStyle: { color: LINE_COLOR, width: 3.6 },
          z: 3,
        },
      ],
      graphic: [
        { type: "line", shape: { x1: 2548, y1: 563, x2: 2548, y2: 238 }, style: { stroke: RED, lineWidth: 6 } },
        { type: "polygon", shape: { points: [[2548, 219], [2535, 245], [2561, 245]] }, style: { fill: RED } },
        { type: "line", shape: { x1: 2548, y1: 1030, x2: 2548, y2: 1354 }, style: { stroke: BLUE, lineWidth: 6 } },
        { type: "polygon", shape: { points: [[2548, 1373], [2535, 1347], [2561, 1347]] }, style: { fill: BLUE } },
        txt(WARM_LINES[0], 2548, 625, RED, 55),
        txt(WARM_LINES[1], 2548, 692, RED, 55),
        txt(COLD_LINES[0], 2548, 870, BLUE, 55),
        txt(COLD_LINES[1], 2548, 937, BLUE, 55),
        txt(CREDIT, 2347, 1577, "#000", 53),
      ],
    });

    return () => chart.dispose();
  }, []);

  return (
    <div
      ref={ref}
      style={{ position: "absolute", left: 0, top: 0, width: 2676, height: 1625, background: "#fff" }}
    />
  );
}
